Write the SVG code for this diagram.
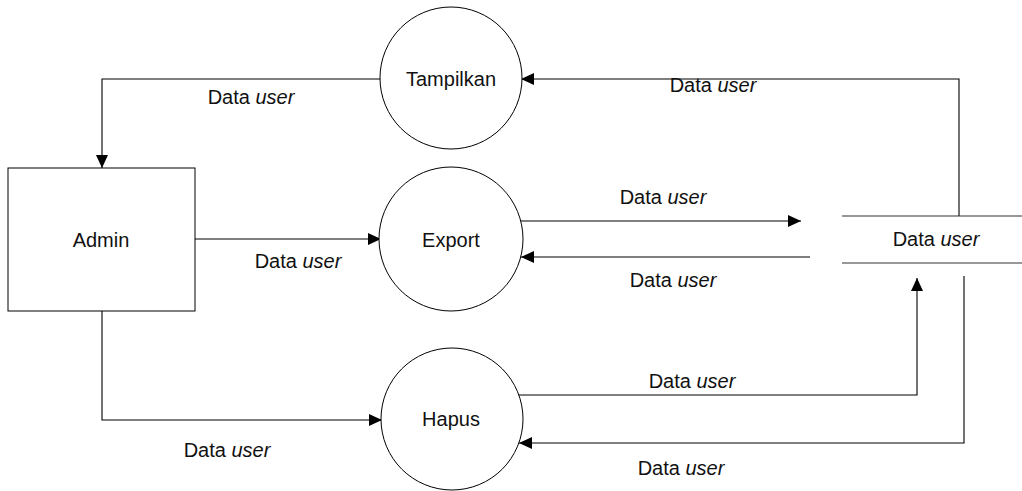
<svg xmlns="http://www.w3.org/2000/svg" width="1022" height="491" viewBox="0 0 1022 491">
<style>
.shape{fill:#fff;stroke:#000;stroke-width:1}
.store{stroke:#333;stroke-width:1.2;fill:none}
.conn path{fill:none;stroke:#000;stroke-width:1.1;marker-end:url(#arr)}
text{font-family:"Liberation Sans",Arial,sans-serif;font-size:20px;fill:#111;text-anchor:middle}
.i{font-style:italic}
</style>
<defs>
<marker id="arr" markerUnits="userSpaceOnUse" markerWidth="14" markerHeight="12" refX="13" refY="6" orient="auto">
<path d="M0,0 L13,6 L0,12 Z" fill="#000"/>
</marker>
</defs>
<rect width="1022" height="491" fill="#fff"/>
<g class="conn" id="connectors">
<path d="M381,79 H102 V168"/>
<path d="M959,216 V79 H521"/>
<path d="M195,239 H381"/>
<path d="M521,221 H801"/>
<path d="M810,257 H521"/>
<path d="M102,311 V420 H382"/>
<path d="M519,395 H917 V278"/>
<path d="M964,276 V443 H519"/>
</g>
<g id="admin"><rect class="shape" x="8" y="168" width="187" height="143"/><text x="101" y="247">Admin</text></g>
<g id="tampilkan"><circle class="shape" cx="451" cy="78" r="71"/><text x="451" y="86">Tampilkan</text></g>
<g id="export"><circle class="shape" cx="451" cy="239" r="72"/><text x="451" y="247">Export</text></g>
<g id="hapus"><circle class="shape" cx="452" cy="419" r="71"/><text x="451" y="426">Hapus</text></g>
<g id="datastore"><path class="store" d="M842,216 H1022 M842,263 H1022"/><text x="936" y="246">Data <tspan class="i">user</tspan></text></g>
<g id="labels">
<text x="251" y="104">Data <tspan class="i">user</tspan></text>
<text x="713" y="92">Data <tspan class="i">user</tspan></text>
<text x="663" y="204">Data <tspan class="i">user</tspan></text>
<text x="673" y="287">Data <tspan class="i">user</tspan></text>
<text x="298" y="268">Data <tspan class="i">user</tspan></text>
<text x="227" y="457">Data <tspan class="i">user</tspan></text>
<text x="692" y="388">Data <tspan class="i">user</tspan></text>
<text x="681" y="475">Data <tspan class="i">user</tspan></text>
</g>
</svg>
